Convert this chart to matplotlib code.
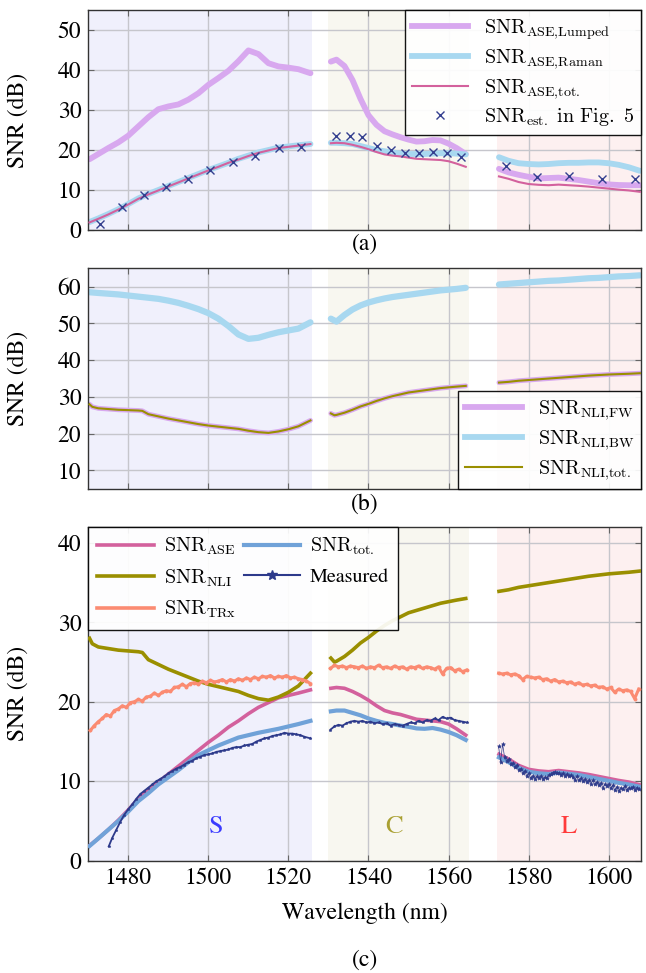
import matplotlib
matplotlib.use("Agg")
import matplotlib.pyplot as plt
import numpy as np

plt.rcParams['font.family'] = ['STIXGeneral', 'Liberation Serif', 'DejaVu Serif']
plt.rcParams['mathtext.fontset'] = 'cm'

# ---------------- data ----------------
# wavelength grids (nm)
lam_S = [1470.3, 1472.5, 1475, 1477.5, 1480, 1482.5, 1485, 1487.5, 1490, 1492.5, 1495, 1497.5,
         1500, 1502.5, 1505, 1507.5, 1510, 1512.5, 1515, 1517.5, 1520, 1522.5, 1525.5]
lam_C = [1530.6, 1532, 1534, 1536, 1538, 1540, 1542, 1544, 1546, 1548, 1550, 1552, 1554, 1556,
         1558, 1560, 1562, 1564.3]
lam_L = [1572.6, 1575, 1577.5, 1580, 1582.5, 1585, 1587.5, 1590, 1592.5, 1595, 1597.5, 1600,
         1602.5, 1605, 1607.8]

# (a) ASE SNRs
lumped_S = [17.7, 19.0, 20.5, 21.9, 23.6, 25.9, 28.2, 30.2, 30.9, 31.4, 32.6, 34.2, 36.3, 38.0,
            39.8, 42.2, 44.9, 44.0, 41.7, 40.9, 40.6, 40.2, 39.2]
lumped_C = [42.1, 42.6, 41.0, 37.5, 32.8, 28.7, 26.3, 24.7, 23.9, 23.2, 22.6, 22.1, 22.2, 22.5,
            22.4, 21.6, 20.5, 19.0]
lumped_L = [15.3, 14.4, 13.8, 13.3, 12.9, 13.0, 13.1, 12.8, 12.5, 12.1, 11.7, 11.4, 11.25, 11.2, 11.2]

raman_S = [2.0, 2.9, 4.0, 5.2, 6.5, 7.9, 9.0, 10.0, 11.0, 12.0, 13.0, 14.0, 15.0, 15.9, 16.8,
           17.8, 18.6, 19.4, 20.0, 20.6, 20.9, 21.2, 21.5]
raman_C = [21.8, 21.8, 21.7, 21.5, 21.0, 20.5, 20.0, 19.7, 19.4, 19.1, 19.0, 19.0, 19.0, 19.1,
           19.2, 19.2, 19.1, 18.9]
raman_L = [18.2, 17.3, 16.7, 16.5, 16.4, 16.5, 16.7, 16.8, 16.8, 16.9, 16.9, 16.7, 16.3, 15.7, 14.8]

ase_S = [1.9, 2.8, 3.9, 5.1, 6.4, 7.8, 8.9, 9.9, 10.9, 11.9, 12.9, 13.9, 14.9, 15.8, 16.8,
         17.6, 18.5, 19.3, 19.9, 20.5, 20.8, 21.1, 21.5]
ase_C = [21.7, 21.8, 21.7, 21.3, 20.8, 20.2, 19.5, 18.9, 18.6, 18.4, 18.1, 17.8, 17.7, 17.6,
         17.5, 17.2, 16.6, 15.8]
ase_L = [13.4, 12.8, 12.0, 11.5, 11.3, 11.2, 11.35, 11.2, 11.05, 10.85, 10.6, 10.35, 10.1, 9.9, 9.55]

est_lam = [1472.8, 1478.5, 1483.8, 1489.3, 1494.9, 1500.3, 1506.1, 1511.7, 1517.6, 1523.1,
           1531.9, 1535.4, 1538.5, 1542.2, 1545.6, 1549.2, 1552.5, 1556.0, 1559.6, 1563.2,
           1574.4, 1582.1, 1590.2, 1598.4, 1606.7]
est_snr = [1.5, 5.8, 8.75, 10.7, 12.75, 15.0, 17.0, 18.6, 20.6, 20.8,
           23.5, 23.5, 23.3, 21.1, 20.0, 19.3, 19.2, 19.6, 19.2, 18.3,
           16.1, 13.2, 13.6, 12.75, 12.75]

# (b) NLI SNRs
lam_nS = [1470.3, 1471, 1472.5, 1475, 1477.5, 1480, 1482.5, 1483.5, 1485, 1487.5, 1490, 1492.5,
          1495, 1497.5, 1500, 1502.5, 1505, 1507.5, 1510, 1512.5, 1515, 1517.5, 1520, 1522.5, 1525.5]
lam_nC = [1530.6, 1531.5, 1532, 1534, 1536, 1538, 1540, 1542, 1544, 1546, 1548, 1550, 1552,
          1554, 1556, 1558, 1560, 1562, 1564.3]
nli_tot_S = [28.0, 27.3, 26.9, 26.7, 26.5, 26.4, 26.3, 26.2, 25.3, 24.7, 24.1, 23.6, 23.1, 22.6,
             22.2, 21.9, 21.6, 21.3, 20.8, 20.4, 20.2, 20.6, 21.2, 22.0, 23.6]
nli_tot_C = [25.5, 25.0, 25.1, 25.7, 26.5, 27.4, 28.1, 28.9, 29.6, 30.2, 30.7, 31.2, 31.5, 31.8,
             32.1, 32.4, 32.6, 32.8, 33.0]
nli_tot_L = [33.9, 34.1, 34.4, 34.6, 34.8, 35.0, 35.2, 35.4, 35.6, 35.8, 35.95, 36.1, 36.2, 36.3, 36.45]
nli_fw_S = [28.0, 27.3, 26.9, 26.7, 26.5, 26.4, 26.3, 26.2, 25.3, 24.7, 24.1, 23.6, 23.1, 22.6,
            22.2, 21.9, 21.6, 21.3, 20.8, 20.4, 20.2, 20.6, 21.2, 22.0, 23.6]
nli_fw_C = [25.5, 25.0, 25.1, 25.7, 26.5, 27.4, 28.1, 28.9, 29.6, 30.2, 30.7, 31.2, 31.5, 31.8,
            32.1, 32.4, 32.6, 32.8, 33.0]
nli_fw_L = [33.9, 34.1, 34.4, 34.6, 34.8, 35.0, 35.2, 35.4, 35.6, 35.8, 35.95, 36.1, 36.2, 36.3, 36.45]
nli_bw_S = [58.5, 58.3, 58.1, 57.9, 57.6, 57.3, 57.0, 56.7, 56.2, 55.6, 54.8, 53.9, 52.8, 51.3,
            49.3, 47.0, 45.8, 46.1, 46.9, 47.6, 48.1, 48.6, 50.3]
nli_bw_C = [51.3, 50.5, 52.3, 53.8, 54.9, 55.7, 56.3, 56.8, 57.2, 57.5, 57.8, 58.1, 58.4, 58.7,
            59.0, 59.2, 59.4, 59.7]
nli_bw_L = [60.6, 60.8, 61.0, 61.2, 61.4, 61.6, 61.7, 61.9, 62.1, 62.3, 62.4, 62.6, 62.8, 62.9, 63.1]

# (c) total SNR
tot_S = [1.85, 2.8, 3.9, 5.0, 6.2, 7.5, 8.5, 9.6, 10.5, 11.4, 12.4, 13.3, 13.9, 14.5, 15.0,
         15.5, 15.8, 16.1, 16.35, 16.6, 16.9, 17.2, 17.6]
tot_C = [18.8, 18.9, 18.9, 18.6, 18.3, 17.9, 17.6, 17.35, 17.2, 17.0, 16.85, 16.65, 16.6, 16.7,
         16.5, 16.2, 15.8, 15.2]
tot_L = [13.0, 12.4, 11.7, 11.2, 11.0, 10.9, 11.1, 10.95, 10.8, 10.55, 10.3, 10.05, 9.8, 9.6, 9.3]

# (c) transceiver SNR (1 nm sampling)
trx_lam_S = [1470.5 + i for i in range(56)]
trx_S = [16.4, 17.0, 17.5, 17.9, 18.4, 18.2, 18.9, 19.1, 19.5, 19.3, 19.9, 20.0, 20.3, 20.1,
         20.6, 20.7, 21.1, 20.8, 21.2, 21.4, 21.3, 21.8, 21.9, 22.2, 21.9, 22.3, 22.4, 22.2,
         22.6, 22.4, 22.7, 22.5, 22.6, 22.8, 22.5, 22.8, 22.6, 22.9, 22.7, 23.0, 22.8, 23.1,
         22.9, 23.2, 23.1, 23.3, 23.0, 23.2, 23.1, 23.3, 23.0, 23.1, 22.9, 22.8, 22.6, 22.3]
trx_lam_C = [1530.5 + i for i in range(35)]
trx_C = [24.2, 24.6, 24.4, 24.5, 24.3, 24.5, 24.4, 24.3, 24.5, 24.2, 24.4, 24.3, 24.6, 24.3,
         24.4, 24.2, 24.5, 24.3, 24.4, 24.1, 24.4, 24.3, 24.5, 24.2, 24.4, 24.3, 24.1, 24.4,
         23.5, 24.2, 24.3, 23.9, 24.1, 23.8, 24.0]
trx_lam_L = [1572.5 + i for i in range(36)]
trx_L = [23.6, 23.5, 23.6, 23.4, 23.5, 23.3, 22.8, 23.2, 23.1, 23.0, 23.1, 22.8, 22.9, 22.6,
         22.8, 22.5, 22.6, 22.4, 22.5, 22.2, 22.4, 22.1, 22.2, 22.0, 22.1, 21.8, 21.9, 21.6,
         21.8, 21.2, 21.6, 21.4, 21.5, 21.3, 20.4, 21.6]

# (c) measured SNR
meas_lam_S = [1475.1] + [1476 + i for i in range(49)] + [1525.5]
meas_S = [1.8, 2.9, 3.9, 4.9, 5.8, 6.5, 7.1, 7.8, 8.4, 8.8, 9.2, 9.6, 10.0, 10.3, 10.6, 11.0,
          11.3, 11.6, 11.8, 12.1, 12.4, 12.6, 12.9, 13.1, 13.3, 13.4, 13.5, 13.7, 13.8, 13.9,
          14.0, 14.2, 14.3, 14.3, 14.5, 14.6, 14.7, 15.0, 15.2, 15.4, 15.5, 15.7, 15.8, 15.9,
          16.1, 16.0, 16.0, 15.9, 15.8, 15.6, 15.4]
meas_lam_C = [1530.5 + i for i in range(35)]
meas_C = [16.5, 16.9, 17.1, 17.0, 17.3, 17.5, 17.6, 17.5, 17.6, 17.4, 17.5, 17.3, 17.4, 17.2,
          17.3, 17.0, 17.2, 17.1, 17.0, 17.2, 17.4, 17.3, 17.6, 17.4, 17.7, 17.6, 17.9, 17.7,
          18.1, 17.9, 18.0, 17.7, 17.6, 17.5, 17.4]
meas_lam_L = [1572.5 + 0.5 * i for i in range(71)]
meas_L = [14.4, 12.4, 14.7, 13.0, 12.6, 12.8, 12.2, 12.3, 11.8, 12.0, 11.4, 11.6, 11.0, 11.3,
          10.7, 11.0, 10.4, 10.7, 10.3, 10.6, 10.4, 10.7, 10.3, 10.5, 10.4, 10.8, 10.9, 11.1,
          11.2, 11.0, 11.1, 10.8, 11.0, 10.7, 10.9, 10.6, 10.8, 10.5, 10.2, 10.6, 10.1, 10.4,
          10.0, 10.3, 9.9, 10.2, 9.7, 10.1, 9.6, 9.9, 9.5, 9.8, 9.2, 9.6, 9.4, 9.7, 9.1, 9.5,
          8.9, 9.3, 8.8, 9.2, 9.0, 9.4, 8.9, 9.2, 9.1, 9.3, 8.9, 9.2, 9.0]

bands = [("S", 1470, 1526, '#f0f0fc', '#3b3bff', 1502),
         ("C", 1530, 1565, '#f8f7f0', '#a9a032', 1546.5),
         ("L", 1572, 1608, '#fdf0f0', '#ff3b3b', 1590)]

xticks = [1480, 1500, 1520, 1540, 1560, 1580, 1600]

# ---------------- colours ----------------
c_lumped = '#d8a8ef'
c_raman = '#a8d8f0'
c_ase = '#d3619d'
c_est = '#343f8f'
c_nli = '#9a8f00'
c_trx = '#fb8b72'
c_tot = '#70a2d8'
c_meas = '#2d3a8b'

fig = plt.figure(figsize=(6.46, 9.73), dpi=100)
L0, W0 = 0.1367, 0.8563
axA = fig.add_axes([L0, 0.7636, W0, 0.2261])
axB = fig.add_axes([L0, 0.4977, W0, 0.2265])
axC = fig.add_axes([L0, 0.1154, W0, 0.3430])

TICK = 17
LEGFS = 14.5


def style(ax, ylim, yticks, xlabels):
    ax.set_xlim(1470, 1608.2)
    ax.set_ylim(*ylim)
    ax.set_xticks(xticks)
    ax.set_yticks(yticks)
    ax.set_axisbelow(True)
    ax.grid(True, color='#c6c6cc', lw=1.0)
    for name, x0, x1, fc, tc, xc in bands:
        ax.axvspan(x0, x1, color=fc, zorder=0.1, lw=0)
    ax.tick_params(direction='in', length=4, width=0.8, color='#666666', top=True, right=True,
                   labelsize=TICK, pad=5)
    if not xlabels:
        ax.set_xticklabels([])
    for s in ax.spines.values():
        s.set_color('#333333')
        s.set_linewidth(1.0)
    ax.set_ylabel('SNR (dB)', fontsize=TICK)
    ax.yaxis.set_label_coords(-0.108, 0.5)


def add_legend(ax, handles, labels, loc, **kw):
    lg = ax.legend(handles, labels, loc=loc, borderaxespad=0, fancybox=False, framealpha=0.92,
                   edgecolor='black', fontsize=LEGFS, handlelength=2.8, **kw)
    lg.get_frame().set_linewidth(1.0)
    return lg


# ---------------- (a) ----------------
style(axA, (0, 55), [0, 10, 20, 30, 40, 50], False)
for lam, lu, ra, ase in [(lam_S, lumped_S, raman_S, ase_S), (lam_C, lumped_C, raman_C, ase_C),
                         (lam_L, lumped_L, raman_L, ase_L)]:
    axA.plot(lam, lu, color=c_lumped, lw=4.2, solid_capstyle='round', zorder=2)
    axA.plot(lam, ra, color=c_raman, lw=4.2, solid_capstyle='round', zorder=2)
    axA.plot(lam, ase, color=c_ase, lw=1.5, zorder=3)
axA.plot(est_lam, est_snr, ls='none', marker='x', ms=6, mew=1.0, color=c_est, zorder=4)
hA = [plt.Line2D([], [], color=c_lumped, lw=4.2),
      plt.Line2D([], [], color=c_raman, lw=4.2),
      plt.Line2D([], [], color=c_ase, lw=1.5),
      plt.Line2D([], [], ls='none', marker='x', ms=6, mew=1.0, color=c_est)]
lA = [r'$\mathrm{SNR}_{\mathrm{ASE{,}Lumped}}$', r'$\mathrm{SNR}_{\mathrm{ASE{,}Raman}}$',
      r'$\mathrm{SNR}_{\mathrm{ASE{,}tot.}}$', r'$\mathrm{SNR}_{\mathrm{est.}}\ \mathrm{in\ Fig.\ 5}$']
add_legend(axA, hA, lA, 'upper right', labelspacing=0.28, borderpad=0.35)

# ---------------- (b) ----------------
style(axB, (5, 65), [10, 20, 30, 40, 50, 60], False)
for lam_n, fw, tot, lam_b, bw in [(lam_nS, nli_fw_S, nli_tot_S, lam_S, nli_bw_S),
                                  (lam_nC, nli_fw_C, nli_tot_C, lam_C, nli_bw_C),
                                  (lam_L, nli_fw_L, nli_tot_L, lam_L, nli_bw_L)]:
    axB.plot(lam_n, fw, color=c_lumped, lw=3.5, solid_capstyle='round', zorder=2)
    axB.plot(lam_b, bw, color=c_raman, lw=4.5, solid_capstyle='round', zorder=2)
    axB.plot(lam_n, tot, color=c_nli, lw=1.5, zorder=3)
hB = [plt.Line2D([], [], color=c_lumped, lw=4.2),
      plt.Line2D([], [], color=c_raman, lw=4.2),
      plt.Line2D([], [], color=c_nli, lw=1.5)]
lB = [r'$\mathrm{SNR}_{\mathrm{NLI{,}FW}}$', r'$\mathrm{SNR}_{\mathrm{NLI{,}BW}}$',
      r'$\mathrm{SNR}_{\mathrm{NLI{,}tot.}}$']
add_legend(axB, hB, lB, 'lower right', labelspacing=0.3, borderpad=0.35)

# ---------------- (c) ----------------
style(axC, (0, 42), [0, 10, 20, 30, 40], True)
for lam, a, t in [(lam_S, ase_S, tot_S), (lam_C, ase_C, tot_C), (lam_L, ase_L, tot_L)]:
    axC.plot(lam, a, color=c_ase, lw=2.6, zorder=3)
    axC.plot(lam, t, color=c_tot, lw=3.0, zorder=3)
for lam_n, n in [(lam_nS, nli_tot_S), (lam_nC, nli_tot_C), (lam_L, nli_tot_L)]:
    axC.plot(lam_n, n, color=c_nli, lw=2.6, zorder=3)
for lam, t in [(trx_lam_S, trx_S), (trx_lam_C, trx_C), (trx_lam_L, trx_L)]:
    axC.plot(lam, t, color=c_trx, lw=2.2, marker='o', ms=2.8, mew=0, zorder=3)
for lam, m in [(meas_lam_S, meas_S), (meas_lam_C, meas_C)]:
    axC.plot(lam, m, color=c_meas, lw=1.3, marker='*', ms=2.2, mew=0.4, zorder=4)
axC.plot(meas_lam_L, meas_L, color=c_meas, lw=0.5, marker='*', ms=3.0, mew=0.4, zorder=4)
for name, x0, x1, fc, tc, xc in bands:
    axC.text(xc, 4.3, name, color=tc, fontsize=19, ha='center', va='center', zorder=5)

hC = [plt.Line2D([], [], color=c_ase, lw=2.6),
      plt.Line2D([], [], color=c_nli, lw=2.6),
      plt.Line2D([], [], color=c_trx, lw=2.6),
      plt.Line2D([], [], color=c_tot, lw=3.0),
      plt.Line2D([], [], color=c_meas, lw=1.5, marker='*', ms=7)]
lC = [r'$\mathrm{SNR}_{\mathrm{ASE}}$', r'$\mathrm{SNR}_{\mathrm{NLI}}$',
      r'$\mathrm{SNR}_{\mathrm{TRx}}$', r'$\mathrm{SNR}_{\mathrm{tot.}}$', 'Measured']
add_legend(axC, hC, lC, 'upper left', ncol=2, labelspacing=0.5, columnspacing=0.4,
           handletextpad=0.5, borderpad=0.45)
axC.set_xlabel('Wavelength (nm)', fontsize=TICK, labelpad=10)

xc_mid = L0 + W0 / 2
fig.text(xc_mid, 1 - 244 / 973, '(a)', ha='center', va='center', fontsize=TICK)
fig.text(xc_mid, 1 - 504 / 973, '(b)', ha='center', va='center', fontsize=TICK)
fig.text(xc_mid, 1 - 960 / 973, '(c)', ha='center', va='center', fontsize=TICK)

fig.savefig('out.png', dpi=100)
